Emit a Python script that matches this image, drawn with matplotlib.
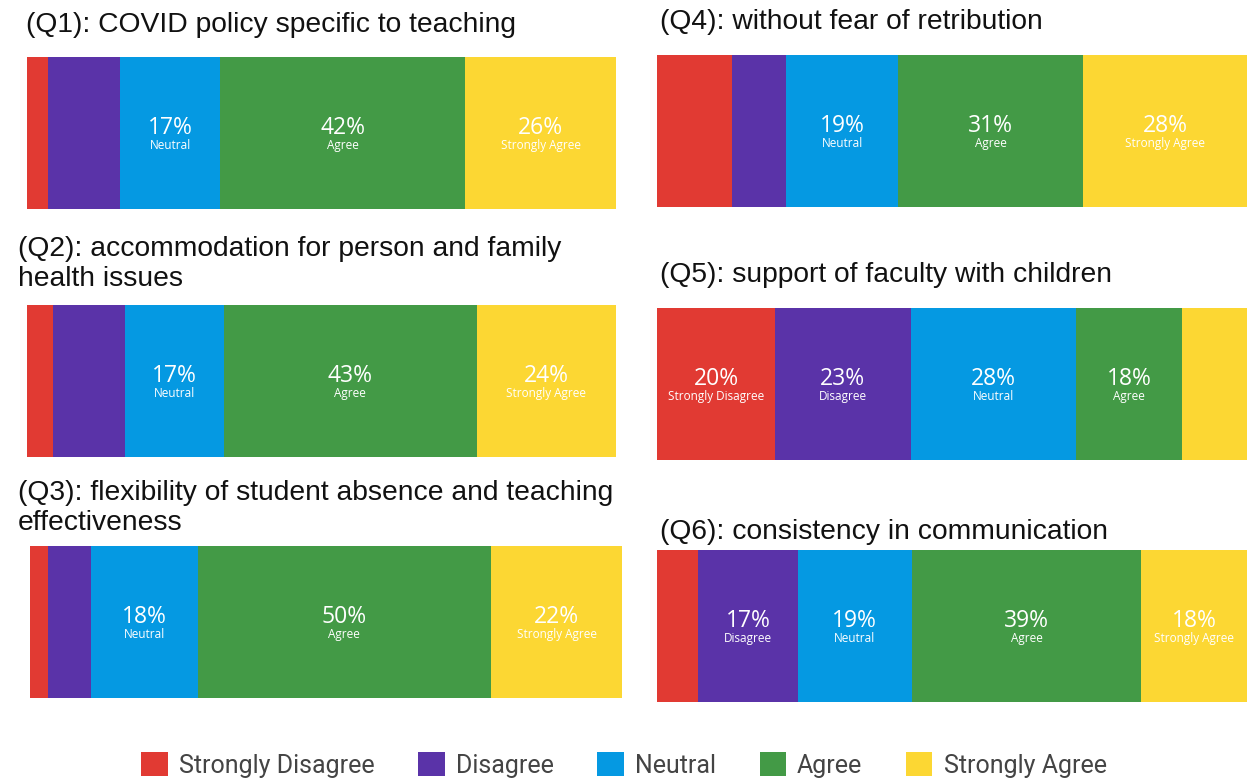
import matplotlib.pyplot as plt
from matplotlib.patches import Patch
import numpy as np

titles = ["(Q1): COVID policy specific to teaching",
          "(Q2): accommodation for person and family\nhealth issues",
          "(Q3): flexibility of student absence and teaching\neffectiveness",
          "(Q4): without fear of retribution",
          "(Q5): support of faculty with children",
          "(Q6): consistency in communication"]
categories = ["Strongly Disagree", "Disagree", "Neutral", "Agree", "Strongly Agree"]

strongly_disagree = [3.6, 4.4, 3.0, 12.7, 20.0, 7.0]
disagree = [12.2, 12.2, 7.3, 9.2, 23.0, 16.8]
neutral = [17.0, 16.8, 18.0, 19.0, 28.0, 19.4]
agree = [41.6, 43.0, 49.6, 31.3, 18.0, 38.8]
strongly_agree = [25.6, 23.6, 22.1, 27.8, 11.0, 17.9]

colors = ["#E13A33", "#5A33A8", "#0599E2", "#439A46", "#FCD733"]

W, H = 1248, 782
fig = plt.figure(figsize=(W / 100, H / 100), dpi=100)

# bar boxes in pixels: left, top, right, bottom
boxes = [(27, 57, 616, 209), (27, 305, 616, 457), (30, 546, 622, 698),
         (657, 55, 1247, 207), (657, 308, 1247, 460), (657, 550, 1247, 702)]
# title anchor: left x, center y
title_pos = [(26, 25), (18, 264), (18, 508), (660, 22), (660, 275), (660, 532)]

data = np.array([strongly_disagree, disagree, neutral, agree, strongly_agree]).T

for i, (row, box) in enumerate(zip(data, boxes)):
    l, t, r, b = box
    ax = fig.add_axes([l / W, 1 - b / H, (r - l) / W, (b - t) / H])
    left = 0
    for v, c, name in zip(row, colors, categories):
        ax.barh(0, v, left=left, height=1, color=c, edgecolor='none')
        if v >= 15:
            tr = ax.get_xaxis_transform()
            ax.text(left + v / 2, 0.53, f"{v:.0f}%", transform=tr, ha='center', va='center',
                    color='white', fontsize=16.5, family='Open Sans')
            ax.text(left + v / 2, 0.415, name, transform=tr, ha='center', va='center',
                    color='white', fontsize=8.5, family='Open Sans')
        left += v
    ax.set_xlim(0, row.sum())
    ax.set_ylim(-0.5, 0.5)
    ax.axis('off')
    tx, ty = title_pos[i]
    fig.text(tx / W, 1 - ty / H, titles[i], ha='left', va='center', fontsize=20.3,
             family='Liberation Sans', color='#111111', linespacing=1.2)

handles = [Patch(facecolor=c, edgecolor='none', label=n) for c, n in zip(colors, categories)]
fig.legend(handles=handles, loc='center', bbox_to_anchor=(0.5, 1 - 765 / H), ncol=5,
           frameon=False, handlelength=1.05, handleheight=1.05,
           handletextpad=0.45, columnspacing=1.75, labelcolor='#444444',
           prop={'family': 'Roboto', 'size': 18})

fig.savefig('out.png', dpi=100)
